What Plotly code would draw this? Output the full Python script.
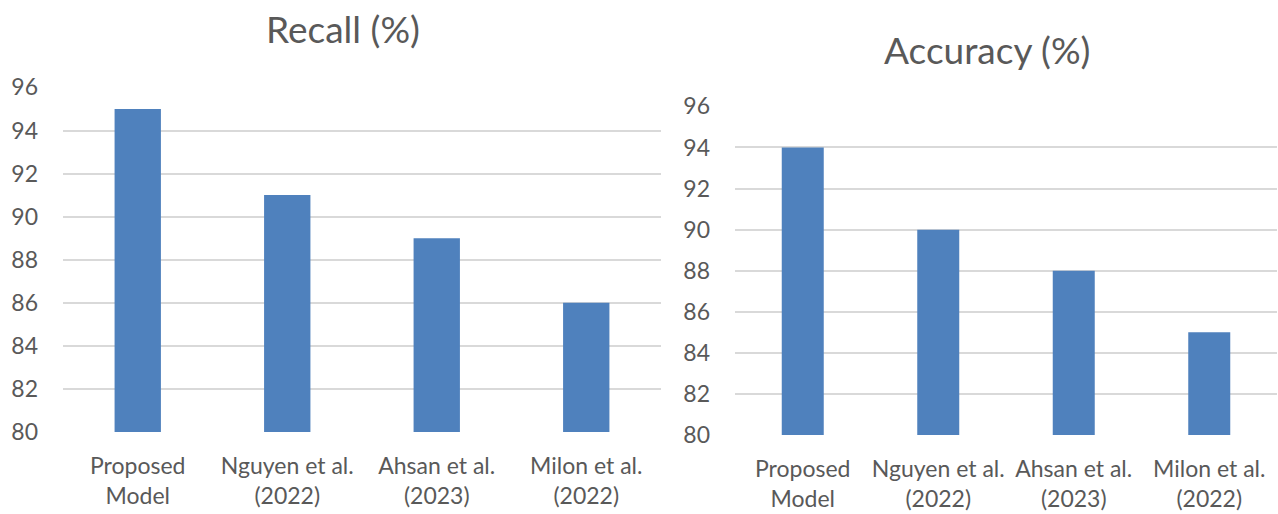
import plotly.graph_objects as go

# Models compared in both panels
categories = ["Proposed<br>Model", "Nguyen et al.<br>(2022)", "Ahsan et al.<br>(2023)", "Milon et al.<br>(2022)"]
recall_values = [95, 91, 89, 86]
accuracy_values = [94, 90, 88, 85]
y_ticks = [80, 82, 84, 86, 88, 90, 92, 94, 96]

BAR_COLOR = "#4F81BD"
TEXT_COLOR = "#595959"
GRID_COLOR = "#D9D9D9"
FONT = "Lato, 'Open Sans', sans-serif"
TICK_SIZE = 23
TITLE_SIZE = 37

fig = go.Figure()
fig.add_trace(go.Bar(x=categories, y=recall_values, marker_color=BAR_COLOR,
                     marker_line_width=0, xaxis="x", yaxis="y", showlegend=False))
fig.add_trace(go.Bar(x=categories, y=accuracy_values, marker_color=BAR_COLOR,
                     marker_line_width=0, xaxis="x2", yaxis="y2", showlegend=False))

common_x = dict(showgrid=False, zeroline=False, showline=False, ticks="",
                automargin=False,
                tickfont=dict(size=TICK_SIZE, color=TEXT_COLOR, family=FONT),
                ticklabelstandoff=18)
common_y = dict(range=[80, 96.02], tickvals=y_ticks, showgrid=True,
                gridcolor=GRID_COLOR, gridwidth=2, zeroline=False, showline=False,
                automargin=False,
                ticks="", tickfont=dict(size=TICK_SIZE, color=TEXT_COLOR, family=FONT),
                ticklabelstandoff=24)

fig.update_layout(
    width=1278, height=514,
    margin=dict(l=0, r=0, t=0, b=0, autoexpand=False),
    paper_bgcolor="white", plot_bgcolor="white",
    bargap=0.69,
    font=dict(family=FONT, color=TEXT_COLOR),
    xaxis=dict(domain=[63 / 1278, 661 / 1278], anchor="y", **common_x),
    yaxis=dict(domain=[(514 - 432) / 514, (514 - 87) / 514], anchor="x", **common_y),
    xaxis2=dict(domain=[735 / 1278, 1277 / 1278], anchor="y2", **common_x),
    yaxis2=dict(domain=[(514 - 435) / 514, (514 - 106) / 514], anchor="x2", **common_y),
    annotations=[
        dict(text="Recall (%)", x=343 / 1278, y=1 - 28 / 514, xref="paper", yref="paper",
             xanchor="center", yanchor="middle", showarrow=False,
             font=dict(size=TITLE_SIZE, color=TEXT_COLOR, family=FONT)),
        dict(text="Accuracy (%)", x=987 / 1278, y=1 - 50 / 514, xref="paper", yref="paper",
             xanchor="center", yanchor="middle", showarrow=False,
             font=dict(size=TITLE_SIZE, color=TEXT_COLOR, family=FONT)),
    ],
)

fig.write_html("out.html")
